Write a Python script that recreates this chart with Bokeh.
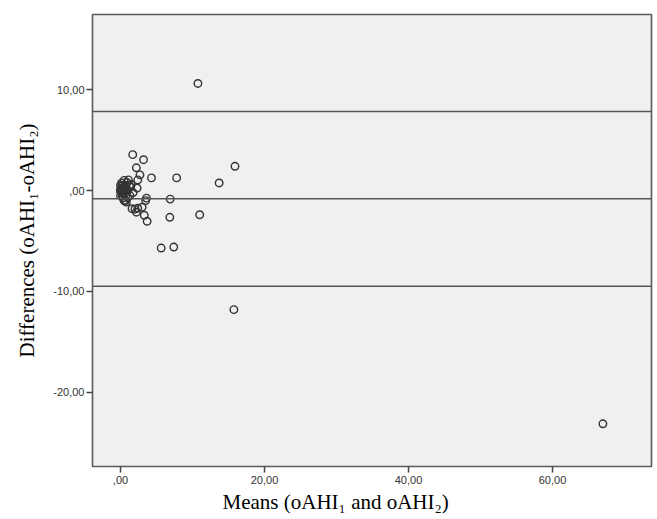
from bokeh.plotting import figure
from bokeh.models import FixedTicker, Span, Title
from bokeh.embed import file_html
from bokeh.resources import INLINE

# Bland-Altman data: means and differences of oAHI1 / oAHI2
means = [10.75, 15.9, 13.7, 7.8, 4.3, 1.7, 3.2, 2.2, 2.7, 2.4, 2.3, 3.6, 6.9, 11.0,
         6.85, 3.3, 3.7, 5.65, 7.4, 15.75, 67.0, 1.6, 2.2, 2.4, 3.0, 2.0,
         1.1, 0.8, 1.3, 1.4, 0.0, 0.0, 0.0, 0.25, 0.25, 0.5, 0.5, 0.5, 0.75, 0.75,
         1.0, 1.25, 1.75, 0.9, 1.0, 1.5, 0.6, 0.4, 0.7, 3.5,
         0.1, 0.2, 0.3, 0.0, 0.0, 0.15, 0.35, 0.6]
diffs = [10.6, 2.4, 0.75, 1.25, 1.25, 3.55, 3.05, 2.25, 1.55, 1.05, 0.25, -0.75, -0.85, -2.4,
         -2.65, -2.45, -3.05, -5.7, -5.6, -11.8, -23.1, -1.8, -2.15, -1.75, -1.65, -1.85,
         1.05, -1.15, -0.5, 0.35, 0.0, 0.0, 0.0, 0.5, -0.5, 0.0, 1.0, -1.0, 0.5, -0.5,
         0.0, 0.5, -0.2, 0.8, -0.7, 0.6, -0.3, 0.2, -1.0, -1.0,
         0.25, -0.25, 0.0, 0.5, -0.5, 0.75, -0.75, 0.25]

mean_diff = -0.82
upper_loa = 7.83
lower_loa = -9.47

x_ticks = [0, 20, 40, 60]
x_tick_labels = [",00", "20,00", "40,00", "60,00"]
y_ticks = [-20, -10, 0, 10]
y_tick_labels = ["-20,00", "-10,00", ",00", "10,00"]

x_title = "Means (oAHI\u2081 and oAHI\u2082)"
y_title = "Differences (oAHI\u2081-oAHI\u2082)"

p = figure(width=657, height=519, output_backend="svg", toolbar_location=None,
           x_range=(-3.89, 73.75), y_range=(-27.33, 17.43),
           min_border_left=92, min_border_right=6, min_border_top=14, min_border_bottom=53)

p.border_fill_color = "white"
p.background_fill_color = "#f0f0f0"
p.outline_line_color = "#5a5a5a"
p.outline_line_width = 1.6
p.grid.visible = False

for loc in [upper_loa, mean_diff, lower_loa]:
    p.add_layout(Span(location=loc, dimension="width", line_color="#555555", line_width=1.5))

p.scatter(means, diffs, marker="circle", size=7.5, fill_color=None,
          line_color="#333333", line_width=1.4)

# axes
p.xaxis.ticker = FixedTicker(ticks=x_ticks)
p.xaxis.major_label_overrides = {t: l for t, l in zip(x_ticks, x_tick_labels)}
p.yaxis.ticker = FixedTicker(ticks=y_ticks)
p.yaxis.major_label_overrides = {t: l for t, l in zip(y_ticks, y_tick_labels)}

for ax in [p.xaxis[0], p.yaxis[0]]:
    ax.axis_line_color = None
    ax.major_tick_line_color = "#444444"
    ax.major_tick_line_width = 1.5
    ax.major_tick_in = 0
    ax.major_tick_out = 6
    ax.minor_tick_line_color = None
    ax.major_label_text_font = "Liberation Sans"
    ax.major_label_text_font_size = "11px"
    ax.major_label_text_color = "#333333"

p.xaxis.major_label_standoff = 3
p.yaxis.major_label_standoff = 2

p.yaxis.axis_label = y_title
p.yaxis.axis_label_text_font = "Liberation Serif"
p.yaxis.axis_label_text_font_size = "21px"
p.yaxis.axis_label_text_font_style = "normal"
p.yaxis.axis_label_text_color = "black"
p.yaxis.axis_label_standoff = 11

p.add_layout(Title(text=x_title, align="left", offset=130, text_font="Liberation Serif",
                   text_font_size="21px", text_font_style="normal", text_color="black",
                   standoff=3), "below")

open("out.html", "w").write(file_html(p, INLINE))
